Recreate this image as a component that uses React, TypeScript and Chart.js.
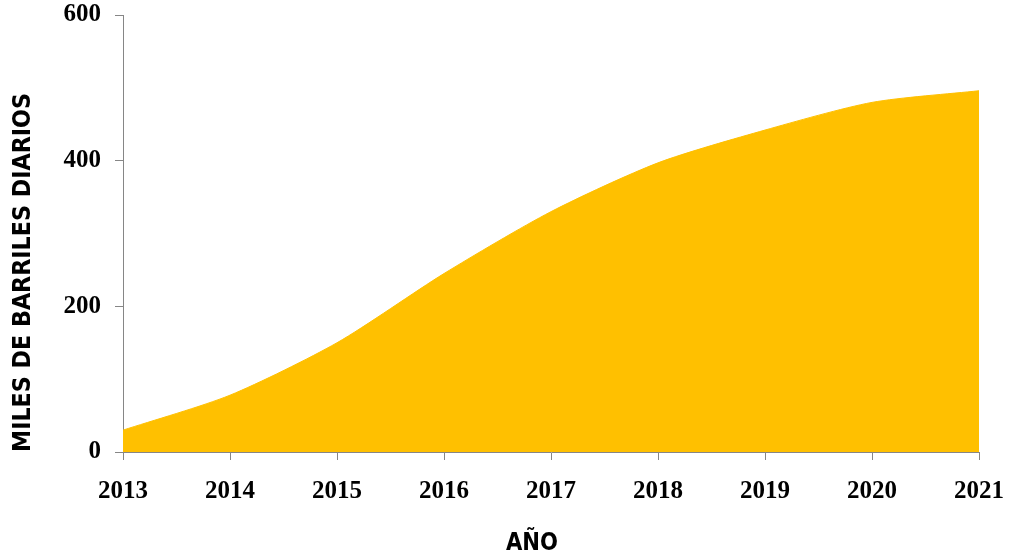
import React, { useEffect, useRef } from "react";
import { Chart, registerables } from "chart.js";

Chart.register(...registerables);

const years: string[] = ["2013", "2014", "2015", "2016", "2017", "2018", "2019", "2020", "2021"];
const production: number[] = [30, 78, 150, 245, 330, 397, 442, 480, 496];
const yTicks: number[] = [0, 200, 400, 600];
const yTitle = "MILES DE BARRILES DIARIOS";
const xTitle = "AÑO";

const FILL = "#FFC000";
const AXIS = "#868686";
const TICK_FONT = { family: '"Liberation Serif", "Times New Roman", serif', size: 25, weight: "bold" as const };
const TITLE_FONT = 'bold 25px "DejaVu Sans Condensed", "DejaVu Sans", sans-serif';

const titlesPlugin = {
  id: "axisTitles",
  afterDraw(chart: any) {
    const ctx = chart.ctx as CanvasRenderingContext2D;
    const area = chart.chartArea;
    ctx.save();
    ctx.fillStyle = "#000";
    ctx.font = TITLE_FONT;
    ctx.save();
    ctx.translate(22.5, area.bottom);
    ctx.rotate(-Math.PI / 2);
    ctx.textAlign = "left";
    ctx.textBaseline = "middle";
    ctx.fillText(yTitle, 0, 1, 359);
    ctx.restore();
    ctx.textAlign = "center";
    ctx.textBaseline = "alphabetic";
    ctx.fillText(xTitle, 532, 550, 52);
    ctx.restore();
  },
};

export default function App() {
  const ref = useRef<HTMLCanvasElement | null>(null);
  useEffect(() => {
    document.body.style.margin = "0";
    if (!ref.current) return;
    const chart = new Chart(ref.current, {
      type: "line",
      data: {
        labels: years,
        datasets: [
          {
            data: production,
            fill: "origin",
            backgroundColor: FILL,
            borderColor: FILL,
            borderWidth: 1,
            pointRadius: 0,
            tension: 0.25,
          },
        ],
      },
      options: {
        animation: false,
        responsive: false,
        maintainAspectRatio: false,
        layout: { padding: { top: 15, right: 31, left: 0, bottom: 0 } },
        plugins: { legend: { display: false }, tooltip: { enabled: false } },
        scales: {
          x: {
            type: "category",
            offset: false,
            z: 1,
            afterFit: (s: any) => {
              s.height = 100;
              s.paddingLeft = 0;
              s.paddingRight = 0;
            },
            grid: { display: true, drawOnChartArea: false, drawTicks: true, tickLength: 8, color: AXIS },
            border: { display: true, color: AXIS, width: 1 },
            ticks: { color: "#000", font: TICK_FONT, padding: 17, maxRotation: 0, autoSkip: false },
          },
          y: {
            min: 0,
            max: 600,
            z: 1,
            afterFit: (s: any) => {
              s.width = 123;
              s.paddingTop = 0;
              s.paddingBottom = 0;
            },
            afterBuildTicks: (s: any) => {
              s.ticks = yTicks.map((v) => ({ value: v }));
            },
            grid: { display: true, drawOnChartArea: false, drawTicks: true, tickLength: 8, color: AXIS },
            border: { display: true, color: AXIS, width: 1 },
            ticks: { color: "#000", font: TICK_FONT, padding: 14 },
          },
        },
      },
      plugins: [titlesPlugin],
    });
    return () => chart.destroy();
  }, []);
  return (
    <div style={{ width: 1010, height: 552, background: "#fff" }}>
      <canvas ref={ref} width={1010} height={552} style={{ display: "block", width: 1010, height: 552 }} />
    </div>
  );
}
